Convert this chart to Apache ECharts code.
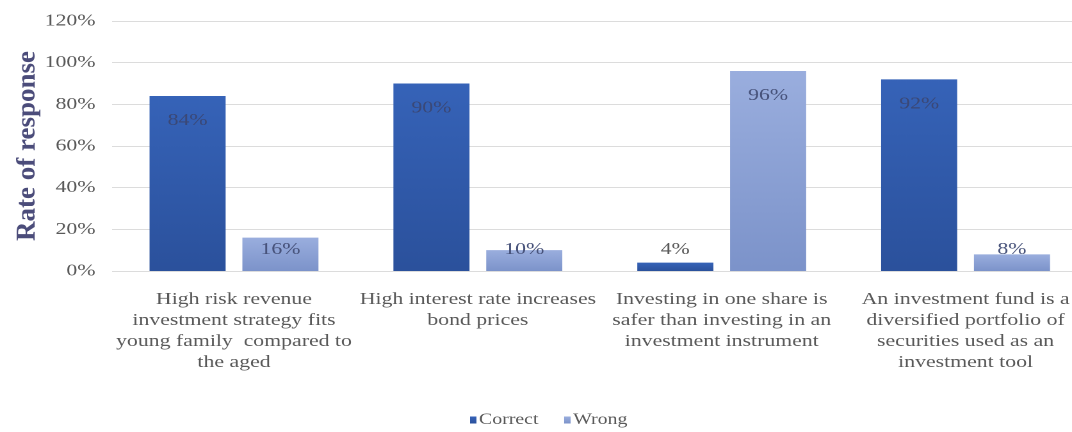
<!DOCTYPE html>
<html>
<head>
<meta charset="utf-8">
<script src="https://cdn.jsdelivr.net/npm/echarts@6/dist/echarts.min.js"></script>
<style>
  html, body { margin: 0; padding: 0; background: #fff; overflow: hidden; }
  #wrap { width: 1072px; height: 432px; overflow: hidden; }
  /* the chart is laid out on a narrower canvas and widened, giving the broad lettering */
  #chart { width: 837.5px; height: 432px; transform: scaleX(1.28); transform-origin: 0 0; }
</style>
</head>
<body>
<div id="wrap"><div id="chart"></div></div>
<script>
// Survey statements and share of answers (in %)
const categories = [
  'High risk revenue\ninvestment strategy fits\nyoung family  compared to\nthe aged',
  'High interest rate increases\nbond prices',
  'Investing in one share is\nsafer than investing in an\ninvestment instrument',
  'An investment fund is a\ndiversified portfolio of\nsecurities used as an\ninvestment tool'
];
const correctValues = [84, 90, 4, 92];
const wrongValues = [16, 10, 96, 8];
const seriesNames = ['Correct', 'Wrong'];
const axisTitle = 'Rate of response';

const STRETCH = 1.28;
const FONT = '"Liberation Serif", "Times New Roman", serif';
const GREY = '#595959';

function grad(top, bottom) {
  return new echarts.graphic.LinearGradient(0, 0, 0, 1, [
    { offset: 0, color: top },
    { offset: 1, color: bottom }
  ]);
}

// Short bars carry their label just above the baseline instead of under the top edge
function withLabels(values, smallColor) {
  return values.map(v => ({
    value: v,
    label: v < 22
      ? { position: 'insideBottom', distance: 13, color: v < 8 ? smallColor : undefined }
      : { position: 'insideTop', distance: 16 }
  }));
}

const chart = echarts.init(document.getElementById('chart'), null, {
  renderer: 'canvas', devicePixelRatio: 2, width: 837.5, height: 432
});
chart.setOption({
  animation: false,
  backgroundColor: '#ffffff',
  grid: {
    left: 87.5, width: 761.6, top: 21, bottom: 161,
    containLabel: false,
    outerBoundsMode: 'none'
  },
  graphic: [{
    type: 'text',
    x: 21.5,
    y: 146,
    rotation: Math.PI / 2,
    scaleY: 1 / STRETCH,
    style: {
      text: axisTitle,
      fontFamily: FONT,
      fontSize: 27,
      fontWeight: 'bold',
      fill: '#4b4c7a',
      align: 'center',
      verticalAlign: 'middle'
    }
  }],
  legend: {
    data: seriesNames,
    top: 407,
    left: 362,
    itemWidth: 5,
    itemHeight: 7,
    itemGap: 20,
    icon: 'rect',
    textStyle: { fontFamily: FONT, fontSize: 15.5, color: GREY, padding: [0, 0, 0, -3] }
  },
  xAxis: {
    type: 'category',
    data: categories,
    axisLine: { show: false },
    axisTick: { show: false },
    axisLabel: {
      interval: 0,
      margin: 18,
      fontFamily: FONT,
      fontSize: 17,
      lineHeight: 21,
      color: GREY,
      align: 'center',
      hideOverlap: false
    }
  },
  yAxis: {
    type: 'value',
    min: 0,
    max: 120,
    interval: 20,
    axisLine: { show: false },
    axisTick: { show: false },
    splitLine: { lineStyle: { color: '#dcdcdc', width: 1 } },
    axisLabel: {
      formatter: '{value}%',
      margin: 13,
      fontFamily: FONT,
      fontSize: 17,
      color: GREY
    }
  },
  series: [
    {
      name: seriesNames[0],
      type: 'bar',
      data: withLabels(correctValues, GREY),
      barWidth: 59.4,
      barGap: '22%',
      itemStyle: { color: grad('#3663b8', '#2b519c') },
      label: {
        show: true,
        formatter: '{c}%',
        fontFamily: FONT,
        fontSize: 17,
        color: '#3b4876'
      }
    },
    {
      name: seriesNames[1],
      type: 'bar',
      data: withLabels(wrongValues, GREY),
      barWidth: 59.4,
      itemStyle: { color: grad('#9aaede', '#7c93ca') },
      label: {
        show: true,
        formatter: '{c}%',
        fontFamily: FONT,
        fontSize: 17,
        color: '#47527a'
      }
    }
  ]
});
</script>
</body>
</html>
